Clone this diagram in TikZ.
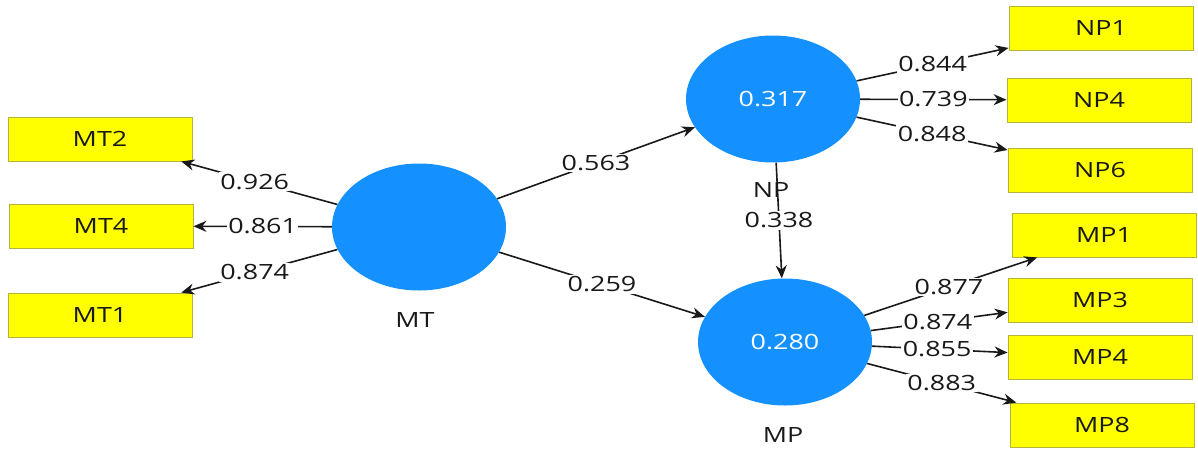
\documentclass[tikz,border=0pt]{standalone}
\usepackage{fontspec}
\setmainfont[FakeStretch=1.28]{Open Sans}
\usetikzlibrary{shapes.geometric,arrows.meta}
\definecolor{latent}{RGB}{20,145,255}
\definecolor{indic}{RGB}{255,255,0}
\definecolor{indicedge}{RGB}{180,180,60}
\definecolor{ink}{RGB}{25,25,25}
\newcommand{\labelfont}{\fontsize{21}{24}\selectfont}
\begin{document}
\begin{tikzpicture}[x=1pt,y=-1pt,
  latentvar/.style={ellipse,fill=latent,minimum width=174pt,minimum height=127pt,
    inner sep=0pt,text=white,font=\labelfont},
  indicator/.style={rectangle,fill=indic,draw=indicedge,line width=0.9pt,
    minimum width=184pt,minimum height=44pt,inner sep=0pt,text=ink,font=\labelfont},
  caption/.style={text=ink,font=\labelfont},
  relation/.style={draw=ink,line width=1.6pt,-{Stealth[length=13pt,width=11pt]}},
  coef/.style={fill=white,inner sep=1.5pt,text=ink,font=\labelfont}]
\useasboundingbox (0,0) rectangle (1198,450);

% latent variables
\node[latentvar] (MT) at (419,227) {};
\node[latentvar] (NP) at (773,99) {0.317};
\node[latentvar] (MP) at (785,342) {0.280};

% captions under the latent variables
\node[caption] (MTcap) at (415,320) {MT};
\node[caption] (NPcap) at (771,190) {NP};
\node[caption] (MPcap) at (783,435) {MP};

% indicators
\node[indicator] (MT2) at (100,139) {MT2};
\node[indicator] (MT4) at (101,226) {MT4};
\node[indicator] (MT1) at (100,315) {MT1};
\node[indicator] (NP1) at (1101,28) {NP1};
\node[indicator] (NP4) at (1099,100) {NP4};
\node[indicator] (NP6) at (1100,170) {NP6};
\node[indicator] (MP1) at (1104,235) {MP1};
\node[indicator] (MP3) at (1100,300) {MP3};
\node[indicator] (MP4) at (1100,357) {MP4};
\node[indicator] (MP8) at (1102,425) {MP8};

% outer loadings of MT
\draw[relation] (MT) -- node[coef,pos=0.53] {0.926} (MT2);
\draw[relation] (MT) -- node[coef,pos=0.5] {0.861} (MT4);
\draw[relation] (MT) -- node[coef,pos=0.53] {0.874} (MT1);

% structural paths
\draw[relation] (MT) -- node[coef,pos=0.5] {0.563} (NP);
\draw[relation] (MT) -- node[coef,pos=0.5] {0.259} (MP);
\draw[relation] (NP) -- node[coef,pos=0.5] {0.338} (MP);

% outer loadings of NP
\draw[relation] (NP) -- node[coef,pos=0.5] {0.844} (NP1);
\draw[relation] (NP) -- node[coef,pos=0.5] {0.739} (NP4);
\draw[relation] (NP) -- node[coef,pos=0.5] {0.848} (NP6);

% outer loadings of MP
\draw[relation] (MP) -- node[coef,pos=0.49] {0.874} (MP3);
\draw[relation] (MP) -- node[coef,pos=0.49] {0.877} (MP1);
\draw[relation] (MP) -- node[coef,pos=0.48] {0.855} (MP4);
\draw[relation] (MP) -- node[coef,pos=0.5] {0.883} (MP8);
\end{tikzpicture}
\end{document}
